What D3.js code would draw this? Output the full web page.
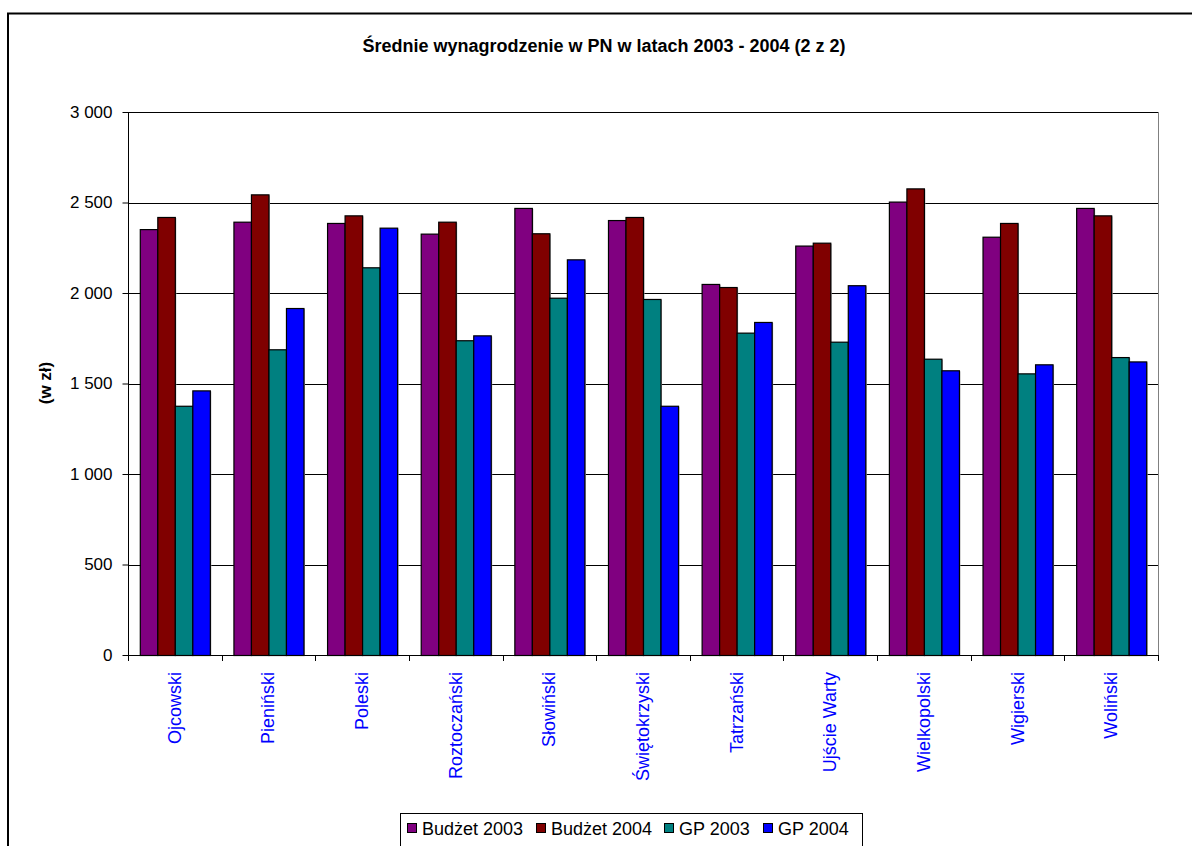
<!DOCTYPE html>
<html><head><meta charset="utf-8">
<script src="https://cdnjs.cloudflare.com/ajax/libs/d3/7.8.5/d3.min.js"></script>
<style>body{margin:0;background:#fff}svg{display:block}</style>
</head><body><svg id="c" width="1192" height="846"></svg>
<script>
const categories = ["Ojcowski","Pieniński","Poleski","Roztoczański","Słowiński","Świętokrzyski","Tatrzański","Ujście Warty","Wielkopolski","Wigierski","Woliński"];
const seriesNames = ["Budżet 2003","Budżet 2004","GP 2003","GP 2004"];
const seriesColors = ["#800080","#800000","#008080","#0000FF"];
const budzet2003 = [2353,2394,2387,2328,2470,2403,2050,2262,2505,2311,2470];
const budzet2004 = [2420,2545,2429,2394,2330,2420,2033,2278,2578,2387,2429];
const gp2003 = [1377,1689,2142,1739,1974,1967,1781,1731,1637,1556,1646];
const gp2004 = [1462,1917,2361,1766,2186,1377,1840,2043,1573,1606,1622];
const yTicks = [0,500,1000,1500,2000,2500,3000];
const yTickLabels = ["0","500","1 000","1 500","2 000","2 500","3 000"];
const title = "Średnie wynagrodzenie w PN w latach 2003 - 2004 (2 z 2)";
const yTitle = "(w zł)";

const series = [budzet2003,budzet2004,gp2003,gp2004];
const font = "'Liberation Sans', Arial, sans-serif";
const svg = d3.select("#c");
const L = 128, R = 1158, T = 112, B = 655;

// outer frame
svg.append("rect").attr("x",8).attr("y",13.5).attr("width",1300).attr("height",1000)
  .attr("fill","none").attr("stroke","#000").attr("stroke-width",2);

svg.append("text").attr("x",604).attr("y",52).attr("text-anchor","middle")
  .attr("font-family",font).attr("font-weight","bold").attr("font-size",18).text(title);

const x0 = d3.scaleBand().domain(categories).range([L,R]).paddingInner(0.252).paddingOuter(0.126);
const x1 = d3.scaleBand().domain(d3.range(4)).range([0,x0.bandwidth()]);
const y = d3.scaleLinear().domain([0,3000]).range([B,T]);

// plot area border (right)
svg.append("line").attr("x1",R+0.5).attr("x2",R+0.5).attr("y1",T).attr("y2",B).attr("stroke","#808080");
// gridlines
svg.append("g").selectAll("line").data(yTicks.filter(d=>d>0)).join("line")
  .attr("x1",L).attr("x2",R).attr("y1",d=>Math.round(y(d))+0.5).attr("y2",d=>Math.round(y(d))+0.5)
  .attr("stroke","#000").attr("stroke-width",1);

// bars
const g = svg.append("g");
categories.forEach((c,i)=>{
  series.forEach((s,j)=>{
    g.append("rect").attr("x",x0(c)+x1(j)+1.5).attr("y",y(s[i])+1)
      .attr("width",x1.bandwidth()).attr("height",B-y(s[i]))
      .attr("fill","#b0b0b0");
    g.append("rect").attr("x",x0(c)+x1(j)+0.5).attr("y",y(s[i])+0.5)
      .attr("width",x1.bandwidth()).attr("height",B-y(s[i]))
      .attr("fill",seriesColors[j]).attr("stroke","#000").attr("stroke-width",1.2);
  });
});

// y axis
const yAxis = d3.axisLeft(y).tickValues(yTicks).tickFormat((d,i)=>yTickLabels[i]).tickSize(6).tickPadding(10);
const ya = svg.append("g").attr("transform",`translate(${L+0.5},0)`).call(yAxis);
ya.selectAll("text").attr("font-family",font).attr("font-size",17).attr("fill","#000");
ya.selectAll("line,path").attr("stroke","#000");
ya.select(".domain").attr("d",`M0,${T}V${B}`);

// x axis
const bounds = d3.range(categories.length+1).map(i=>L+i*x0.step());
svg.append("line").attr("x1",L).attr("x2",R).attr("y1",B+0.5).attr("y2",B+0.5).attr("stroke","#000");
svg.append("g").selectAll("line").data(bounds).join("line")
  .attr("x1",d=>Math.round(d)+0.5).attr("x2",d=>Math.round(d)+0.5).attr("y1",B).attr("y2",B+6).attr("stroke","#000");
svg.append("g").selectAll("text").data(categories).join("text")
  .attr("transform",d=>`translate(${x0(d)+x0.bandwidth()/2+6},672) rotate(-90)`)
  .attr("text-anchor","end").attr("font-family",font).attr("font-size",18).attr("fill","#0000FF").text(d=>d);

// y title
svg.append("text").attr("transform","translate(51,383) rotate(-90)").attr("text-anchor","middle")
  .attr("font-family",font).attr("font-weight","bold").attr("font-size",17).text(yTitle);

// legend
const lg = svg.append("g");
lg.append("rect").attr("x",400.5).attr("y",813.5).attr("width",462).attr("height",50).attr("fill","#fff").attr("stroke","#000");
const lx = [407,536,664,763];
seriesNames.forEach((n,i)=>{
  lg.append("rect").attr("x",lx[i]+0.5).attr("y",823.5).attr("width",9).attr("height",9)
    .attr("fill",seriesColors[i]).attr("stroke","#000");
  lg.append("text").attr("x",lx[i]+15).attr("y",835).attr("font-family",font).attr("font-size",18).text(n);
});
</script></body></html>
